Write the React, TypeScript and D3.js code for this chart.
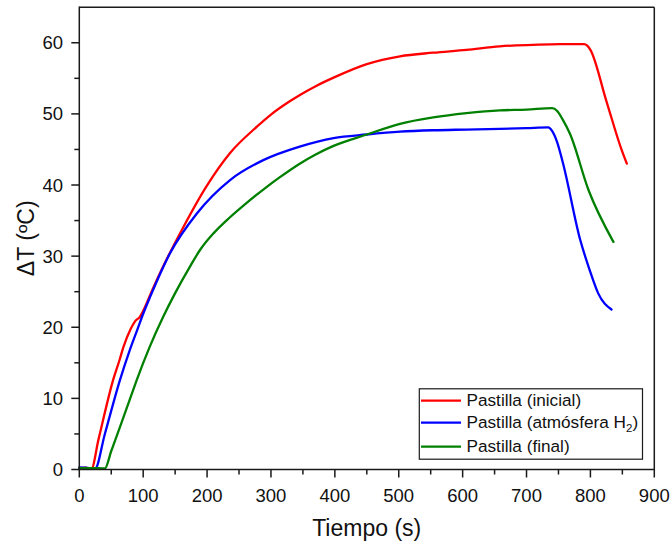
import React from "react";
import * as d3 from "d3";

const W = 672;
const H = 544;

const xTicks = [0, 100, 200, 300, 400, 500, 600, 700, 800, 900];
const yTicks = [0, 10, 20, 30, 40, 50, 60];

// [time (s), ΔT (ºC)]
const redData: [number, number][] = [
  [0, 0.2], [10, 0.25], [19, 0.1], [30, 4.2], [53, 12.6], [63, 15.4], [69, 17.2], [80, 19.7],
  [87, 20.8], [95, 21.5], [100, 22.3], [115, 25.4], [131, 28.5], [163, 34.1], [199, 39.8],
  [236, 44.5], [278, 48.2], [300, 49.9], [330, 51.8], [346, 52.7], [370, 53.9], [398, 55.1],
  [450, 57.0], [502, 58.1], [554, 58.6], [606, 59.0], [658, 59.5], [710, 59.7], [752, 59.8],
  [790, 59.8], [795, 59.6], [800, 59.0], [825, 51.8], [849, 44.9], [857, 43.0],
];

const blueData: [number, number][] = [
  [0, 0.3], [10, 0.25], [24.6, 0.1], [40, 5.0], [63.7, 12.6], [79, 16.8], [91, 19.7],
  [100, 21.9], [111, 24.3], [142, 30.4], [184, 36.0], [236, 40.7], [288, 43.5], [345, 45.4],
  [398, 46.6], [450, 47.1], [502, 47.5], [554, 47.7], [606, 47.8], [658, 47.9],
  [700, 48.0], [734, 48.1], [740, 47.6], [748, 46.0], [757, 43.1], [784, 32.3], [799, 28.0],
  [812, 24.8], [833, 22.5],
];

const greenData: [number, number][] = [
  [0, 0.2], [20, 0.2], [40, 0.15], [50, 2.6], [65, 6.3], [82, 10.6], [90, 12.6], [110, 17.2],
  [131.5, 21.5], [150, 24.8], [173, 28.5], [190, 31.0], [210, 33.2], [235, 35.4], [262, 37.5],
  [290, 39.5], [314, 41.1], [345, 43.0], [370, 44.3], [398, 45.5], [450, 47.1], [502, 48.6],
  [554, 49.5], [606, 50.1], [658, 50.5], [700, 50.6], [740, 50.8], [748, 50.4], [756, 49.3],
  [768, 47.2], [797, 39.3], [836, 32.0],
];

const seriesNames = ["Pastilla (inicial)", "Pastilla (atmósfera H", "Pastilla (final)"];
const seriesColors = ["#ff0000", "#0000ff", "#008000"];

const FONT = "'Liberation Sans', Arial, sans-serif";

export default function App() {
  const x = d3.scaleLinear().domain([0, 900]).range([79.3, 654.3]);
  const y = d3.scaleLinear().domain([0, 65]).range([469.5, 7.2]);
  const line = d3
    .line<[number, number]>()
    .x((d) => x(d[0]))
    .y((d) => y(d[1]))
    .curve(d3.curveMonotoneX);

  const xMinor = d3.range(50, 900, 100);
  const yMinor = d3.range(5, 65, 10);
  const all = [redData, blueData, greenData];

  const x0 = x(0), x1 = x(900), y0 = y(0), y1 = y(65);
  const legRows = [400.7, 422.7, 446.7];

  return (
    <svg
      width={W}
      height={H}
      style={{ position: "absolute", left: 0, top: 0, background: "#fff" }}
      fontFamily={FONT}
    >
      <rect x={0} y={0} width={W} height={H} fill="#fff" />
      {/* data */}
      <g fill="none" strokeWidth={2.3} strokeLinejoin="round" strokeLinecap="round">
        {all.map((d, i) => (
          <path key={i} d={line(d) || ""} stroke={seriesColors[i]} />
        ))}
      </g>
      {/* frame */}
      <g stroke="#1a1a1a" strokeWidth={1.5} fill="none">
        <line x1={x0} y1={y1} x2={x1} y2={y1} />
        <line x1={x1} y1={y1} x2={x1} y2={y0} />
        <line x1={x0} y1={y0} x2={x1 + 0.75} y2={y0} />
        <line x1={x0} y1={y1 - 0.75} x2={x0} y2={y0 + 0.75} />
        {xTicks.map((t) => (
          <line key={"xt" + t} x1={x(t)} x2={x(t)} y1={y0} y2={y0 + 8} />
        ))}
        {xMinor.map((t) => (
          <line key={"xm" + t} x1={x(t)} x2={x(t)} y1={y0} y2={y0 + 5} />
        ))}
        {yTicks.map((t) => (
          <line key={"yt" + t} x1={x0 - 8} x2={x0} y1={y(t)} y2={y(t)} />
        ))}
        {yMinor.map((t) => (
          <line key={"ym" + t} x1={x0 - 5} x2={x0} y1={y(t)} y2={y(t)} />
        ))}
      </g>
      {/* tick labels */}
      <g fontSize={18.5} fill="#111">
        {xTicks.map((t) => (
          <text key={"xl" + t} x={x(t)} y={502} textAnchor="middle">
            {t}
          </text>
        ))}
        {yTicks.map((t) => (
          <text key={"yl" + t} x={63} y={y(t) + 6.6} textAnchor="end">
            {t}
          </text>
        ))}
      </g>
      {/* axis titles */}
      <text x={366.7} y={535.5} textAnchor="middle" fontSize={23} fill="#111">
        Tiempo (s)
      </text>
      <text
        transform={`translate(33.5,238.3) rotate(-90)`}
        textAnchor="middle"
        fontSize={23}
        fill="#111"
      >
        ΔT (ºC)
      </text>
      {/* legend */}
      <rect x={419.3} y={388.8} width={223.2} height={70.4} fill="#fff" stroke="#1a1a1a" strokeWidth={1.2} />
      {seriesNames.map((n, i) => (
        <g key={"lg" + i}>
          <line x1={421} x2={461} y1={legRows[i]} y2={legRows[i]} stroke={seriesColors[i]} strokeWidth={2.2} />
          <text x={466.5} y={legRows[i] + 5.2} fontSize={17.2} fill="#111">
            {n}
            {i === 1 ? (
              <>
                <tspan fontSize={11.5} dy={4}>2</tspan>
                <tspan dy={-4}>)</tspan>
              </>
            ) : null}
          </text>
        </g>
      ))}
    </svg>
  );
}
